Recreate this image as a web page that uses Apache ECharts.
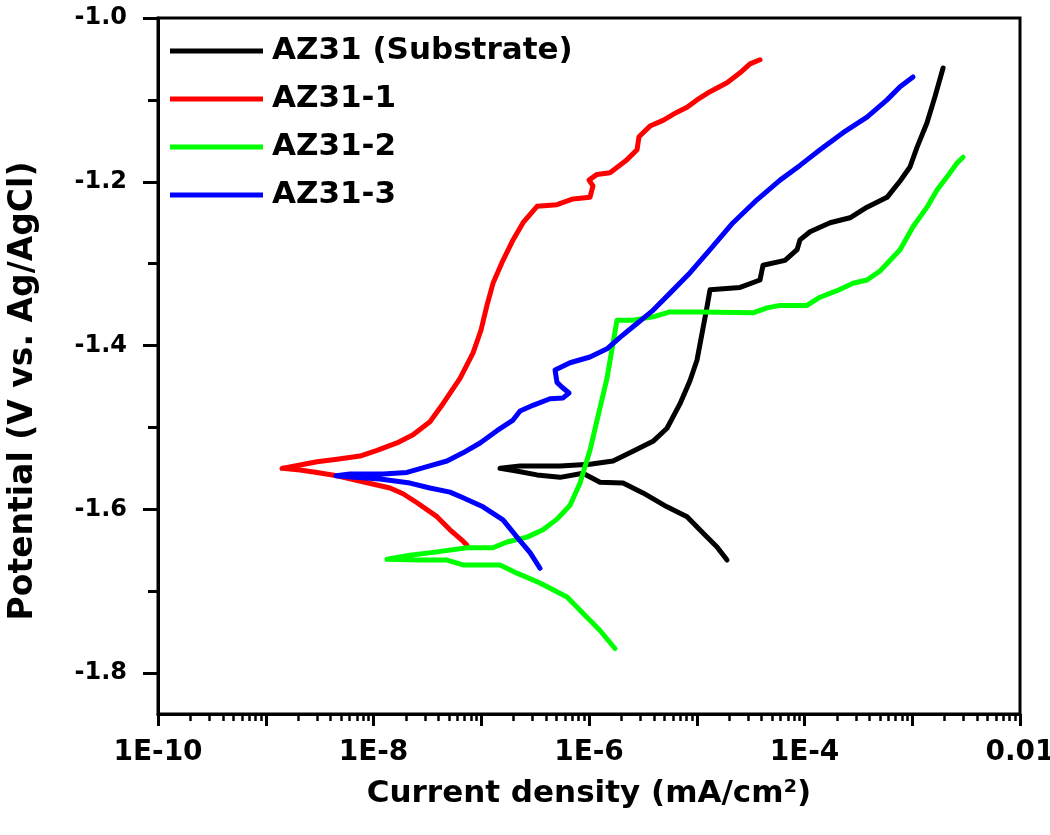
<!DOCTYPE html>
<html>
<head>
<meta charset="utf-8">
<script src="https://cdn.jsdelivr.net/npm/echarts@6/dist/echarts.min.js"></script>
<style>
html,body{margin:0;padding:0;background:#fff;}
#chart{width:1050px;height:835px;}
</style>
</head>
<body>
<div id="chart"></div>
<script>
// Values: log10 of current density (mA/cm2) and potential (V vs. Ag/AgCl),
// each curve in scan order (cathodic end -> corrosion potential -> anodic end).
const seriesNames = ['AZ31 (Substrate)', 'AZ31-1', 'AZ31-2', 'AZ31-3'];
const seriesColors = ['#000000', '#ff0000', '#00ff00', '#0000ff'];

const substrateLog10Current = [-4.719,-4.812,-4.942,-5.090,-5.276,-5.499,-5.684,-5.898,-6.056,-6.269,-6.483,-6.687,-6.826,
  -6.640,-6.269,-5.991,-5.777,-5.592,-5.406,-5.276,-5.155,-5.063,-4.998,-4.942,-4.905,-4.877,-4.598,-4.413,-4.385,-4.181,
  -4.069,-4.042,-3.949,-3.763,-3.578,-3.420,-3.234,-3.113,-3.021,-2.956,-2.863,-2.789,-2.714];
const substratePotential = [-1.662,-1.646,-1.629,-1.609,-1.597,-1.580,-1.568,-1.567,-1.556,-1.561,-1.558,-1.553,-1.550,
  -1.547,-1.547,-1.545,-1.541,-1.529,-1.517,-1.501,-1.471,-1.443,-1.418,-1.379,-1.353,-1.332,-1.329,-1.320,-1.302,-1.296,
  -1.283,-1.271,-1.261,-1.250,-1.244,-1.231,-1.219,-1.199,-1.182,-1.158,-1.128,-1.096,-1.061];

const az31_1Log10Current = [-7.132,-7.169,-7.290,-7.411,-7.596,-7.726,-7.847,-8.079,-8.339,-8.524,-8.682,-8.849,
  -8.682,-8.524,-8.339,-8.125,-7.967,-7.782,-7.633,-7.476,-7.355,-7.197,-7.076,-7.002,-6.947,-6.891,-6.798,-6.705,
  -6.612,-6.482,-6.297,-6.148,-5.991,-5.963,-6.000,-5.926,-5.805,-5.647,-5.554,-5.536,-5.434,-5.313,-5.183,-5.090,
  -4.998,-4.877,-4.719,-4.598,-4.506,-4.413];
const az31_1Potential = [-1.644,-1.639,-1.625,-1.609,-1.592,-1.581,-1.574,-1.567,-1.559,-1.555,-1.552,-1.550,
  -1.546,-1.542,-1.539,-1.535,-1.528,-1.519,-1.509,-1.493,-1.471,-1.440,-1.409,-1.381,-1.351,-1.324,-1.296,-1.271,
  -1.250,-1.230,-1.228,-1.221,-1.219,-1.205,-1.198,-1.191,-1.189,-1.173,-1.161,-1.145,-1.132,-1.125,-1.115,-1.109,
  -1.100,-1.090,-1.079,-1.067,-1.056,-1.051];

const az31_2Log10Current = [-5.759,-5.898,-6.056,-6.204,-6.455,-6.668,-6.826,-7.169,-7.318,-7.568,-7.875,
  -7.661,-7.411,-7.132,-6.891,-6.761,-6.575,-6.427,-6.297,-6.176,-6.083,-5.991,-5.898,-5.833,-5.777,-5.740,-5.592,
  -5.406,-5.248,-4.970,-4.478,-4.348,-4.227,-3.977,-3.856,-3.698,-3.550,-3.420,-3.299,-3.113,-2.993,-2.863,-2.770,
  -2.677,-2.584,-2.529];
const az31_2Potential = [-1.770,-1.748,-1.727,-1.707,-1.690,-1.678,-1.668,-1.668,-1.662,-1.662,-1.661,
  -1.656,-1.652,-1.647,-1.647,-1.640,-1.634,-1.625,-1.612,-1.595,-1.568,-1.528,-1.476,-1.440,-1.397,-1.369,-1.369,
  -1.365,-1.359,-1.359,-1.360,-1.354,-1.351,-1.351,-1.341,-1.333,-1.324,-1.320,-1.309,-1.283,-1.255,-1.231,-1.210,
  -1.194,-1.177,-1.170];

const az31_3Log10Current = [-6.455,-6.547,-6.668,-6.798,-6.984,-7.169,-7.290,-7.476,-7.661,-7.940,-8.172,-8.348,
  -8.218,-7.912,-7.689,-7.503,-7.318,-7.169,-7.011,-6.854,-6.705,-6.640,-6.520,-6.362,-6.241,-6.185,-6.250,-6.297,
  -6.315,-6.176,-5.991,-5.833,-5.712,-5.592,-5.406,-5.248,-5.062,-4.877,-4.663,-4.441,-4.227,-4.042,-3.856,-3.642,
  -3.420,-3.234,-3.113,-2.993];
const az31_3Potential = [-1.672,-1.653,-1.634,-1.613,-1.597,-1.586,-1.579,-1.574,-1.568,-1.563,-1.561,-1.559,
  -1.557,-1.557,-1.555,-1.548,-1.541,-1.531,-1.519,-1.504,-1.491,-1.480,-1.473,-1.465,-1.464,-1.458,-1.451,-1.445,
  -1.430,-1.421,-1.414,-1.404,-1.390,-1.377,-1.357,-1.336,-1.311,-1.283,-1.250,-1.222,-1.198,-1.180,-1.161,-1.140,
  -1.121,-1.100,-1.084,-1.072];

// Axis ticks
const xMin = 1e-10, xMax = 1e-2;
const yMin = -1.85, yMax = -1.0;
const yMajorTicks = [-1.8, -1.6, -1.4, -1.2, -1.0];
const yMinorTicks = [-1.7, -1.5, -1.3, -1.1];
const xLabelExponents = [-10, -8, -6, -4, -2];
const xMinorMultipliers = [2, 3, 4, 5, 6, 7, 8, 9];
const xDecades = [-10, -9, -8, -7, -6, -5, -4, -3];

const xMinorTicks = [];
xDecades.forEach(function (e) {
  xMinorMultipliers.forEach(function (m) { xMinorTicks.push(Number((m + 'e' + e))); });
});

function pairs(logI, E) {
  return logI.map(function (l, i) { return [Math.pow(10, l), E[i]]; });
}

const curves = [
  pairs(substrateLog10Current, substratePotential),
  pairs(az31_1Log10Current, az31_1Potential),
  pairs(az31_2Log10Current, az31_2Potential),
  pairs(az31_3Log10Current, az31_3Potential)
];

const FONT = 'DejaVu Sans';

const chart = echarts.init(document.getElementById('chart'), null, { renderer: 'canvas' });

const option = {
  backgroundColor: '#ffffff',
  animation: false,
  grid: {
    left: 158, right: 30, top: 18, bottom: 121,
    containLabel: false,
    outerBoundsMode: 'none',
    show: true, borderColor: '#000', borderWidth: 3, backgroundColor: 'transparent'
  },
  legend: {
    orient: 'vertical',
    left: 170,
    top: 35,
    padding: 0,
    itemWidth: 93,
    itemHeight: 5,
    itemGap: 16,
    icon: 'rect',
    selectedMode: false,
    data: seriesNames,
    textStyle: {
      fontFamily: FONT, fontWeight: 'bold', fontSize: 31, color: '#000',
      lineHeight: 32, padding: [0, 0, 0, 4]
    }
  },
  xAxis: [
    {
      type: 'log', logBase: 10, min: xMin, max: xMax, splitNumber: 8,
      position: 'bottom',
      axisLine: { show: true, onZero: false, lineStyle: { color: '#000', width: 3 } },
      axisTick: { show: true, inside: false, length: 12, lineStyle: { color: '#000', width: 3 } },
      minorTick: { show: false },
      splitLine: { show: false },
      axisLabel: {
        show: true, margin: 25, color: '#000',
        fontFamily: FONT, fontWeight: 'bold', fontSize: 28,
        formatter: function (v) {
          const e = Math.round(Math.log10(v));
          if (xLabelExponents.indexOf(e) < 0) return '';
          if (e === -2) return '0.01';
          return '1E' + e;
        }
      },
      name: 'Current density (mA/cm²)',
      nameLocation: 'middle',
      nameGap: 64,
      nameTextStyle: { fontFamily: FONT, fontWeight: 'bold', fontSize: 31, color: '#000' }
    },
    {
      type: 'log', logBase: 10, min: xMin, max: xMax, splitNumber: 8,
      position: 'bottom', offset: 0,
      axisLine: { show: false },
      axisTick: { show: true, inside: false, length: 7, customValues: xMinorTicks, lineStyle: { color: '#000', width: 2.5 } },
      splitLine: { show: false },
      axisLabel: { show: false }
    }
  ],
  yAxis: [
    {
      type: 'value', min: yMin, max: yMax,
      position: 'left',
      axisLine: { show: true, onZero: false, lineStyle: { color: '#000', width: 3 } },
      axisTick: { show: true, inside: false, length: 15, customValues: yMajorTicks, lineStyle: { color: '#000', width: 3 } },
      splitLine: { show: false },
      axisLabel: {
        show: true, margin: 31, color: '#000', customValues: yMajorTicks,
        fontFamily: FONT, fontWeight: 'bold', fontSize: 24,
        formatter: function (v) { return v.toFixed(1); }
      },
      name: 'Potential (V vs. Ag/AgCl)',
      nameLocation: 'middle',
      nameGap: 118,
      nameTextStyle: { fontFamily: FONT, fontWeight: 'bold', fontSize: 33, color: '#000', padding: [0, 50, 0, 0] }
    },
    {
      type: 'value', min: yMin, max: yMax,
      position: 'left', offset: 0,
      axisLine: { show: false },
      axisTick: { show: true, inside: false, length: 10, customValues: yMinorTicks, lineStyle: { color: '#000', width: 3 } },
      splitLine: { show: false },
      axisLabel: { show: false }
    }
  ],
  series: seriesNames.map(function (name, i) {
    return {
      name: name,
      type: 'line',
      xAxisIndex: 0,
      yAxisIndex: 0,
      data: curves[i],
      showSymbol: false,
      symbol: 'none',
      smooth: false,
      color: seriesColors[i],
      lineStyle: { color: seriesColors[i], width: 5, join: 'round', cap: 'round' },
      z: 3
    };
  })
};

chart.setOption(option);
</script>
</body>
</html>
